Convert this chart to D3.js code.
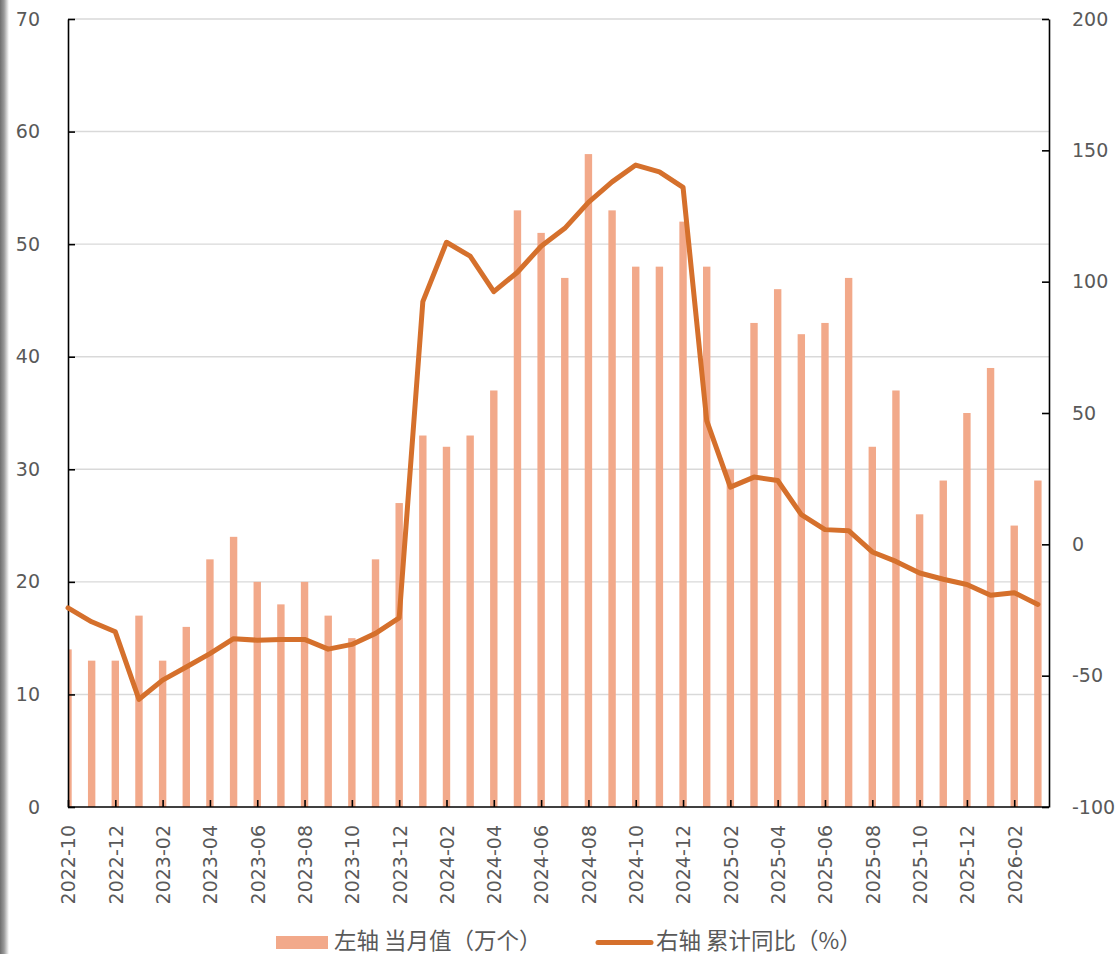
<!DOCTYPE html>
<html>
<head>
<meta charset="utf-8">
<script src="https://cdn.jsdelivr.net/npm/d3@7"></script>
<style>
  body { margin: 0; background: #fff; }
  .asse text { fill: #595959; font-family: "DejaVu Sans", sans-serif; font-size: 19px; }
  .asse path, .asse line { stroke: #000; stroke-width: 1.6px; }
  .legenda { fill: #595959; font-family: "Noto Sans CJK SC", sans-serif; font-size: 22.5px; }
</style>
</head>
<body>
<script>
"use strict"
/* categorie (mesi) */
const mesi = [
  "2022-10", "2022-11", "2022-12", "2023-01", "2023-02", "2023-03", "2023-04", "2023-05",
  "2023-06", "2023-07", "2023-08", "2023-09", "2023-10", "2023-11", "2023-12", "2024-01",
  "2024-02", "2024-03", "2024-04", "2024-05", "2024-06", "2024-07", "2024-08", "2024-09",
  "2024-10", "2024-11", "2024-12", "2025-01", "2025-02", "2025-03", "2025-04", "2025-05",
  "2025-06", "2025-07", "2025-08", "2025-09", "2025-10", "2025-11", "2025-12", "2026-01",
  "2026-02", "2026-03"
];
/* asse sinistro: valore del mese (万个) */
const valoriMese = [
  14, 13, 13, 17, 13, 16, 22, 24, 20, 18, 20, 17, 15, 22, 27, 33,
  32, 33, 37, 53, 51, 47, 58, 53, 48, 48, 52, 48, 30, 43, 46, 42,
  43, 47, 32, 37, 26, 29, 35, 39, 25, 29
];
/* asse destro: cumulato anno su anno (%) */
const cumulatoAnnuo = [
  -24.2, -29.5, -33.3, -59, -51.7, -46.7, -41.6, -35.9, -36.5, -36.2, -36.2, -39.9, -38.1, -33.9, -28, 92.4,
  115, 109.7, 96.2, 103.6, 113.5, 120.3, 130.2, 138, 144.4, 141.8, 135.9, 47.1, 21.8, 25.6, 24.3, 11.3,
  5.6, 5.2, -2.9, -6.5, -10.9, -13.3, -15.3, -19.4, -18.4, -22.9
];
const tickSinistra = [0, 10, 20, 30, 40, 50, 60, 70];
const tickDestra = [-100, -50, 0, 50, 100, 150, 200];
const nomiLegenda = ["左轴 当月值（万个）", "右轴 累计同比（%）"];

const colori = { barre: "#F2A98A", linea: "#D5702C", griglia: "#D9D9D9" };

/* area del grafico in pixel */
const area = { sinistra: 68, destra: 1049, alto: 19, basso: 807 };

const svg = d3.select("body").append("svg")
  .attr("width", 1119)
  .attr("height", 954);

/* bordo grigio a sinistra, come nello screenshot */
const sfumatura = svg.append("defs").append("linearGradient")
  .attr("id", "ombra").attr("x1", "0").attr("x2", "1");
sfumatura.append("stop").attr("offset", "0").attr("stop-color", "#6e6e6e");
sfumatura.append("stop").attr("offset", "0.45").attr("stop-color", "#9a9a9a");
sfumatura.append("stop").attr("offset", "1").attr("stop-color", "#ffffff");
svg.append("rect").attr("x", 0).attr("y", 0).attr("width", 9).attr("height", 954)
  .attr("fill", "url(#ombra)");

svg.append("clipPath").attr("id", "ritaglio")
  .append("rect")
  .attr("x", area.sinistra).attr("y", area.alto)
  .attr("width", area.destra - area.sinistra).attr("height", area.basso - area.alto);

/* scale */
const scalaX = d3.scaleLinear()
  .domain([0, 41.47])
  .range([area.sinistra, area.destra]);
const scalaSinistra = d3.scaleLinear()
  .domain([0, 70])
  .range([area.basso, area.alto]);
const scalaDestra = d3.scaleLinear()
  .domain([-100, 200])
  .range([area.basso, area.alto]);

/* griglia orizzontale */
svg.append("g")
  .selectAll("line")
  .data(tickSinistra.filter(function (t) { return t > 0 }))
  .enter().append("line")
  .attr("x1", area.sinistra).attr("x2", area.destra)
  .attr("y1", function (t) { return scalaSinistra(t) })
  .attr("y2", function (t) { return scalaSinistra(t) })
  .attr("stroke", colori.griglia)
  .attr("stroke-width", 1.4);

/* barre */
const larghezzaBarra = 7.4;
svg.append("g")
  .attr("clip-path", "url(#ritaglio)")
  .selectAll("rect")
  .data(valoriMese)
  .enter().append("rect")
  .attr("x", function (d, i) { return scalaX(i) - larghezzaBarra / 2 })
  .attr("y", function (d) { return scalaSinistra(d) })
  .attr("width", larghezzaBarra)
  .attr("height", function (d) { return area.basso - scalaSinistra(d) })
  .attr("fill", colori.barre);

/* assi: trattino normale al posto del segno meno */
const formatoNumero = function (v) { return String(v) };
const asseSinistro = d3.axisLeft(scalaSinistra)
  .tickValues(tickSinistra)
  .tickFormat(formatoNumero)
  .tickSizeInner(-7).tickSizeOuter(0).tickPadding(28);
svg.append("g").attr("class", "asse")
  .attr("transform", `translate(${area.sinistra},0)`)
  .call(asseSinistro);

const asseDestro = d3.axisRight(scalaDestra)
  .tickValues(tickDestra)
  .tickFormat(formatoNumero)
  .tickSizeInner(-7).tickSizeOuter(0).tickPadding(23);
svg.append("g").attr("class", "asse")
  .attr("transform", `translate(${area.destra},0)`)
  .call(asseDestro);

const asseOrizzontale = d3.axisBottom(scalaX)
  .tickValues(d3.range(0, mesi.length, 2))
  .tickFormat(function (i) { return mesi[i] })
  .tickSizeInner(-7).tickSizeOuter(0);
const gruppoX = svg.append("g").attr("class", "asse")
  .attr("transform", `translate(0,${area.basso})`)
  .call(asseOrizzontale);
gruppoX.select(".domain").attr("d", `M${area.sinistra},0H${area.destra}`);
gruppoX.selectAll("text")
  .attr("transform", "rotate(-90)")
  .attr("text-anchor", "end")
  .attr("x", -18)
  .attr("y", 0)
  .attr("dy", "0.36em");

/* linea cumulata */
const generaLinea = d3.line()
  .x(function (d, i) { return scalaX(i) })
  .y(function (d) { return scalaDestra(d) });
svg.append("path")
  .datum(cumulatoAnnuo)
  .attr("d", generaLinea)
  .attr("fill", "none")
  .attr("stroke", colori.linea)
  .attr("stroke-width", 5)
  .attr("stroke-linejoin", "round")
  .attr("stroke-linecap", "round");

/* legenda */
const legenda = svg.append("g");
legenda.append("rect")
  .attr("x", 276).attr("y", 936).attr("width", 52).attr("height", 13)
  .attr("fill", colori.barre);
legenda.append("text").attr("class", "legenda")
  .attr("x", 334).attr("y", 943).attr("dominant-baseline", "middle")
  .text(nomiLegenda[0]);
legenda.append("line")
  .attr("x1", 598).attr("x2", 651).attr("y1", 942.5).attr("y2", 942.5)
  .attr("stroke", colori.linea).attr("stroke-width", 5).attr("stroke-linecap", "round");
legenda.append("text").attr("class", "legenda")
  .attr("x", 656).attr("y", 943).attr("dominant-baseline", "middle")
  .text(nomiLegenda[1]);
</script>
</body>
</html>
